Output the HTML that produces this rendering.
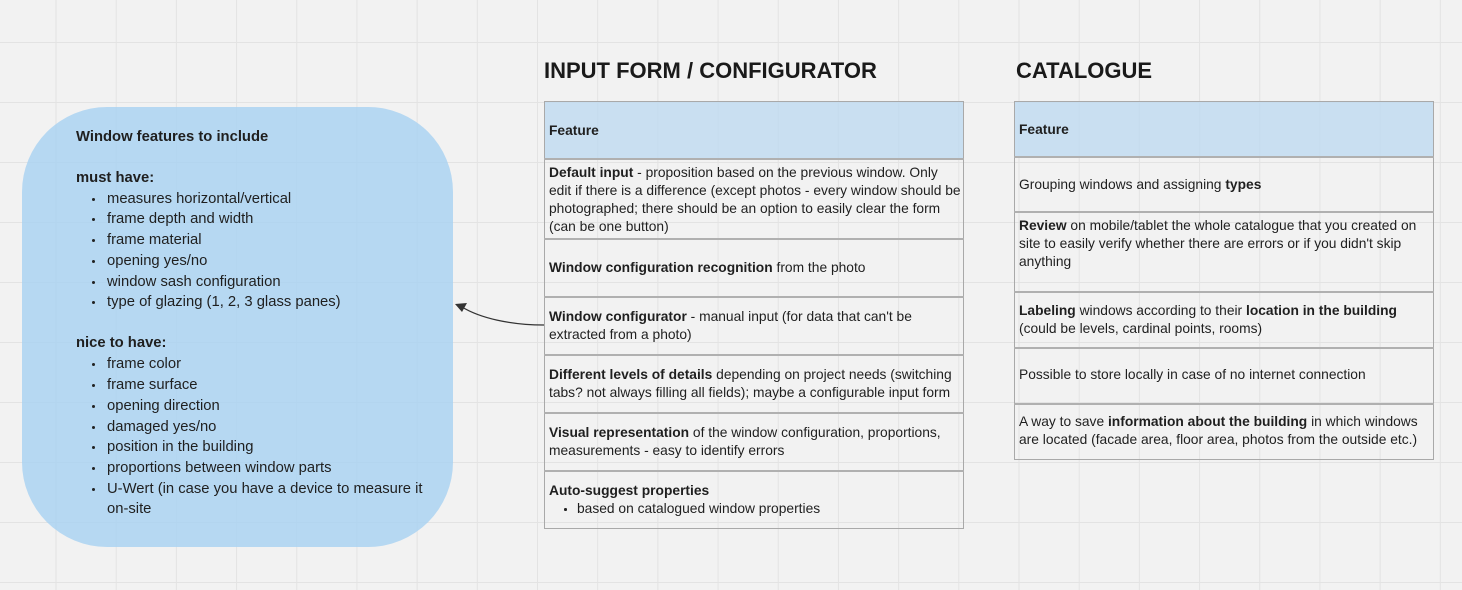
<!DOCTYPE html>
<html><head><meta charset="utf-8"><style>
*{margin:0;padding:0;box-sizing:border-box}
body{width:1462px;height:590px;overflow:hidden;position:relative;background:#f2f2f2;
background-image:linear-gradient(to right,#e3e3e3 1px,transparent 1px),linear-gradient(to bottom,#e3e3e3 1px,transparent 1px);
background-size:60.2px 60px;background-position:55.5px 42px;
font-family:"Liberation Sans",sans-serif;color:#1f1f1f}
.a{position:absolute;white-space:nowrap;line-height:18px}
.t{font-size:13.8px}
.b{font-size:14.8px}
.h{position:absolute;font-weight:bold;font-size:22px;line-height:26px;color:#1a1a1a}
.blob{position:absolute;left:22px;top:107px;width:431px;height:440px;border-radius:85px;background:rgba(168,210,242,0.82)}
.tb{position:absolute;border:1.5px solid #a9a9a9}
.hd{position:absolute;background:rgba(190,218,240,0.8)}
.ln{position:absolute;height:1.5px;background:#b0b0b0}
.dot{position:absolute;width:3px;height:3px;background:#222;border-radius:50%}
</style></head><body>
<div class="blob"></div>
<div class="a b" style="left:76px;top:128px;font-weight:bold">Window features to include</div>
<div class="a b" style="left:76px;top:169px;font-weight:bold">must have:</div>
<div class="a b" style="left:107px;top:190px">measures horizontal/vertical</div>
<div class="a b" style="left:107px;top:210px">frame depth and width</div>
<div class="a b" style="left:107px;top:231px">frame material</div>
<div class="a b" style="left:107px;top:252px">opening yes/no</div>
<div class="a b" style="left:107px;top:273px">window sash configuration</div>
<div class="a b" style="left:107px;top:293px">type of glazing (1, 2, 3 glass panes)</div>
<div class="a b" style="left:76px;top:334px;font-weight:bold">nice to have:</div>
<div class="a b" style="left:107px;top:355px">frame color</div>
<div class="a b" style="left:107px;top:376px">frame surface</div>
<div class="a b" style="left:107px;top:397px">opening direction</div>
<div class="a b" style="left:107px;top:418px">damaged yes/no</div>
<div class="a b" style="left:107px;top:438px">position in the building</div>
<div class="a b" style="left:107px;top:459px">proportions between window parts</div>
<div class="a b" style="left:107px;top:480px">U-Wert (in case you have a device to measure it</div>
<div class="a b" style="left:107px;top:500px">on-site</div>
<div class="dot" style="left:92px;top:198px"></div><div class="dot" style="left:92px;top:218px"></div>
<div class="dot" style="left:92px;top:239px"></div><div class="dot" style="left:92px;top:260px"></div>
<div class="dot" style="left:92px;top:281px"></div><div class="dot" style="left:92px;top:301px"></div>
<div class="dot" style="left:92px;top:363px"></div><div class="dot" style="left:92px;top:384px"></div>
<div class="dot" style="left:92px;top:405px"></div><div class="dot" style="left:92px;top:426px"></div>
<div class="dot" style="left:92px;top:446px"></div><div class="dot" style="left:92px;top:467px"></div>
<div class="dot" style="left:92px;top:488px"></div>

<svg style="position:absolute;left:0;top:0" width="1462" height="590">
<path d="M544 325 C510 325 480 318 462 307" fill="none" stroke="#333" stroke-width="1.3"/>
<path d="M455 304 L467 303 L462 312 Z" fill="#333"/>
</svg>

<div class="h" style="left:544px;top:58px">INPUT FORM / CONFIGURATOR</div>
<div class="h" style="left:1016px;top:58px">CATALOGUE</div>

<div class="hd" style="left:544px;top:102px;width:419px;height:57px"></div>
<div class="tb" style="left:544px;top:101px;width:420px;height:428px"></div>
<div class="ln" style="left:544px;top:158px;width:420px"></div>
<div class="ln" style="left:544px;top:238px;width:420px"></div>
<div class="ln" style="left:544px;top:296px;width:420px"></div>
<div class="ln" style="left:544px;top:354px;width:420px"></div>
<div class="ln" style="left:544px;top:412px;width:420px"></div>
<div class="ln" style="left:544px;top:470px;width:420px"></div>
<div class="a t" style="left:549px;top:122px;font-weight:bold">Feature</div>
<div class="a t" style="left:549px;top:164px"><b>Default input</b> - proposition based on the previous window. Only</div>
<div class="a t" style="left:549px;top:182px">edit if there is a difference (except photos - every window should be</div>
<div class="a t" style="left:549px;top:200px">photographed; there should be an option to easily clear the form</div>
<div class="a t" style="left:549px;top:218px">(can be one button)</div>
<div class="a t" style="left:549px;top:259px"><b>Window configuration recognition</b> from the photo</div>
<div class="a t" style="left:549px;top:308px"><b>Window configurator</b> - manual input (for data that can't be</div>
<div class="a t" style="left:549px;top:326px">extracted from a photo)</div>
<div class="a t" style="left:549px;top:366px"><b>Different levels of details</b> depending on project needs (switching</div>
<div class="a t" style="left:549px;top:384px">tabs? not always filling all fields); maybe a configurable input form</div>
<div class="a t" style="left:549px;top:424px"><b>Visual representation</b> of the window configuration, proportions,</div>
<div class="a t" style="left:549px;top:442px">measurements - easy to identify errors</div>
<div class="a t" style="left:549px;top:482px;font-weight:bold">Auto-suggest properties</div>
<div class="a t" style="left:577px;top:500px">based on catalogued window properties</div>
<div class="dot" style="left:564px;top:508px;width:2.5px;height:2.5px"></div>

<div class="hd" style="left:1014px;top:102px;width:419px;height:55px"></div>
<div class="tb" style="left:1014px;top:101px;width:420px;height:359px"></div>
<div class="ln" style="left:1014px;top:156px;width:420px"></div>
<div class="ln" style="left:1014px;top:211px;width:420px"></div>
<div class="ln" style="left:1014px;top:291px;width:420px"></div>
<div class="ln" style="left:1014px;top:347px;width:420px"></div>
<div class="ln" style="left:1014px;top:403px;width:420px"></div>
<div class="a t" style="left:1019px;top:121px;font-weight:bold">Feature</div>
<div class="a t" style="left:1019px;top:176px">Grouping windows and assigning <b>types</b></div>
<div class="a t" style="left:1019px;top:217px"><b>Review</b> on mobile/tablet the whole catalogue that you created on</div>
<div class="a t" style="left:1019px;top:235px">site to easily verify whether there are errors or if you didn't skip</div>
<div class="a t" style="left:1019px;top:253px">anything</div>
<div class="a t" style="left:1019px;top:302px"><b>Labeling</b> windows according to their <b>location in the building</b></div>
<div class="a t" style="left:1019px;top:320px">(could be levels, cardinal points, rooms)</div>
<div class="a t" style="left:1019px;top:366px">Possible to store locally in case of no internet connection</div>
<div class="a t" style="left:1019px;top:413px">A way to save <b>information about the building</b> in which windows</div>
<div class="a t" style="left:1019px;top:431px">are located (facade area, floor area, photos from the outside etc.)</div>
</body></html>
